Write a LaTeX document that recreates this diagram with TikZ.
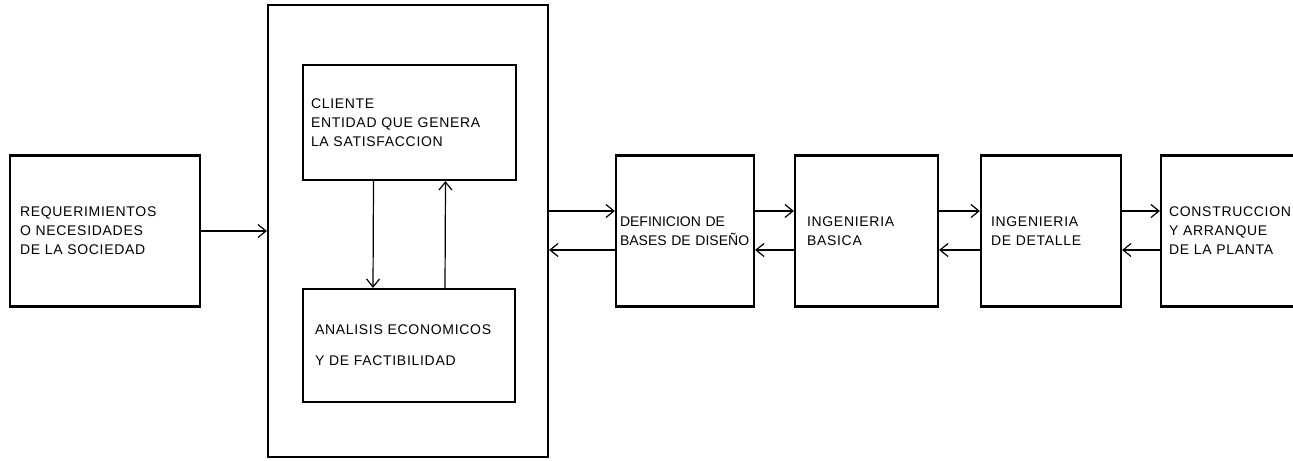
\documentclass[tikz,border=0pt]{standalone}
\usepackage{fontspec}
\newfontfamily\lettering[LetterSpace=5]{Liberation Sans}
\newfontfamily\narrowlettering{Liberation Sans}
\usetikzlibrary{arrows.meta}
\hyphenpenalty=10000
\exhyphenpenalty=10000

\begin{document}
\begin{tikzpicture}[x=0.5pt,y=-0.5pt,
    blk/.style={rectangle,draw,line width=1.1pt,align=left,inner xsep=5pt,
        font=\lettering\fontsize{7}{9.5}\selectfont}]
    \useasboundingbox (0,0) rectangle (1293,460);
    \draw
    (105,231) node[blk,text width=85pt,minimum height=75.5pt](req){REQUERIMIENTOS\\O NECESIDADES\\DE LA SOCIEDAD}
    (408,231) node[blk,minimum width=140pt,minimum height=226pt](sis){}
    (409.5,122.5) node[blk,inner xsep=4pt,text width=98.5pt,minimum height=57.5pt](cli){CLIENTE\\ENTIDAD QUE GENERA\\LA SATISFACCION}
    (409,345.5) node[blk,inner xsep=6pt,text width=94pt,minimum height=56.5pt](ana){ANALISIS ECONOMICOS\\[6pt]Y DE FACTIBILIDAD}
    (685,231) node[blk,font=\narrowlettering\fontsize{7}{9.5}\selectfont,inner xsep=2pt,text width=65pt,minimum height=75.5pt](def){DEFINICION DE\\BASES DE DISEÑO}
    (866.5,231) node[blk,inner xsep=6pt,text width=59.5pt,minimum height=75.5pt](bas){INGENIERIA\\BASICA}
    (1051,231) node[blk,text width=60pt,minimum height=75.5pt](det){INGENIERIA\\DE DETALLE}
    (1233,231) node[blk,inner xsep=4pt,text width=64pt,minimum height=75.5pt](con){CONSTRUCCION\\Y ARRANQUE\\DE LA PLANTA}
    ;
    \begin{scope}[
        every edge/.style={-{Straight Barb[length=4pt,width=6.5pt]},draw=black,line width=0.6pt}]
        \path (req) edge (req -| sis.west);
        \path ([xshift=-18pt]cli.south) edge ([xshift=-18pt]ana.north);
        \path ([xshift=18pt]ana.north) edge ([xshift=18pt]cli.south);
        \path ([yshift=10pt]sis.east) edge ([yshift=10pt]def.west);
        \path ([yshift=-9.5pt]def.west) edge ([yshift=-9.5pt]sis.east);
        \path ([yshift=10pt]def.east) edge ([yshift=10pt]bas.west);
        \path ([yshift=-9.5pt]bas.west) edge ([yshift=-9.5pt]def.east);
        \path ([yshift=10pt]bas.east) edge ([yshift=10pt]det.west);
        \path ([yshift=-9.5pt]det.west) edge ([yshift=-9.5pt]bas.east);
        \path ([yshift=10pt]det.east) edge ([yshift=10pt]con.west);
        \path ([yshift=-9.5pt]con.west) edge ([yshift=-9.5pt]det.east);
    \end{scope}
\end{tikzpicture}
\end{document}
